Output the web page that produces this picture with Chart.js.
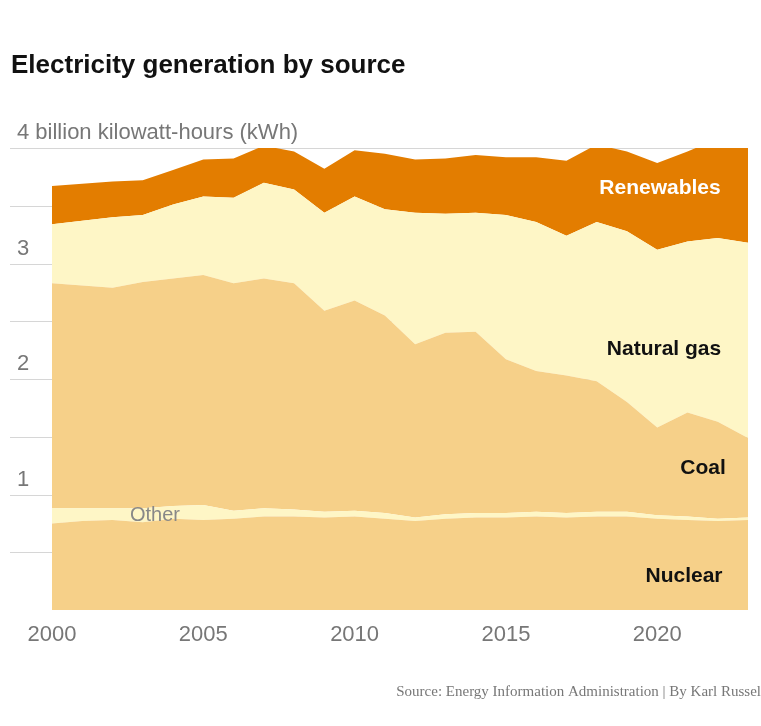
<!DOCTYPE html>
<html>
<head>
<meta charset="utf-8">
<script src="https://cdn.jsdelivr.net/npm/chart.js@4"></script>
<style>
  html, body { margin: 0; padding: 0; background: #fff; }
  #wrap { position: relative; width: 761px; height: 726px; }
</style>
</head>
<body>
<div id="wrap"><canvas id="c" width="761" height="726"></canvas></div>
<script>
var years = [2000,2001,2002,2003,2004,2005,2006,2007,2008,2009,2010,2011,2012,2013,2014,2015,2016,2017,2018,2019,2020,2021,2022,2023];
// billion kWh x 1000 (values in trillion-ish units of the axis)
var nuclear    = [0.75,0.77,0.78,0.76,0.79,0.78,0.79,0.81,0.81,0.80,0.81,0.79,0.77,0.79,0.80,0.80,0.81,0.80,0.81,0.81,0.79,0.78,0.77,0.78];
var other      = [0.13,0.11,0.10,0.12,0.11,0.13,0.07,0.07,0.06,0.05,0.05,0.05,0.03,0.04,0.04,0.04,0.04,0.04,0.04,0.04,0.03,0.03,0.02,0.02];
var coal       = [1.95,1.93,1.91,1.96,1.97,1.99,1.97,1.99,1.96,1.74,1.82,1.71,1.50,1.57,1.57,1.33,1.22,1.19,1.13,0.95,0.76,0.90,0.84,0.69];
var gas        = [0.51,0.56,0.61,0.58,0.64,0.68,0.74,0.83,0.81,0.85,0.90,0.92,1.14,1.03,1.03,1.25,1.29,1.21,1.38,1.48,1.54,1.48,1.59,1.69];
var renewables = [0.33,0.32,0.31,0.30,0.30,0.32,0.34,0.32,0.33,0.38,0.40,0.48,0.46,0.48,0.50,0.50,0.56,0.65,0.67,0.69,0.75,0.78,0.86,0.86];
var yTicks = [0,0.5,1,1.5,2,2.5,3,3.5,4];
var yLabels = {1: "1", 2: "2", 3: "3", 4: "4 billion kilowatt-hours (kWh)"};
var xTicks = [2000,2005,2010,2015,2020];

var FONT = "'Liberation Sans', 'Noto Sans', sans-serif";

function series(label, vals, color, fill) {
  return {
    label: label,
    data: years.map(function (y, i) { return {x: y, y: vals[i]}; }),
    backgroundColor: color,
    borderWidth: 0,
    pointRadius: 0,
    fill: fill,
    tension: 0
  };
}

var decor = {
  id: 'decor',
  beforeDatasetsDraw: function (chart) {
    var ctx = chart.ctx, xs = chart.scales.x, ys = chart.scales.y;
    ctx.save();
    ctx.strokeStyle = '#d6d6d6';
    ctx.lineWidth = 1;
    yTicks.forEach(function (t) {
      if (t === 0) return;
      var py = Math.round(ys.getPixelForValue(t)) + 0.5;
      ctx.beginPath(); ctx.moveTo(10, py); ctx.lineTo(xs.right, py); ctx.stroke();
    });
    ctx.restore();
  },
  afterDatasetsDraw: function (chart) {
    var ctx = chart.ctx, xs = chart.scales.x, ys = chart.scales.y;
    ctx.save();
    ctx.fillStyle = '#777';
    ctx.font = '22px ' + FONT;
    ctx.textBaseline = 'bottom';
    ctx.textAlign = 'left';
    Object.keys(yLabels).forEach(function (k) {
      ctx.fillText(yLabels[k], 17, ys.getPixelForValue(+k) - 4);
    });
    ctx.textAlign = 'center';
    ctx.textBaseline = 'top';
    xTicks.forEach(function (t) {
      ctx.fillText(String(t), xs.getPixelForValue(t), ys.bottom + 14);
    });

    ctx.font = 'bold 21px ' + FONT;
    ctx.textBaseline = 'middle';
    ctx.fillStyle = '#fff';
    ctx.fillText('Renewables', 660, 188);
    ctx.fillStyle = '#111';
    ctx.fillText('Natural gas', 664, 349);
    ctx.fillText('Coal', 703, 468);
    ctx.fillText('Nuclear', 684, 576);
    ctx.fillStyle = '#888';
    ctx.font = '20px ' + FONT;
    ctx.fillText('Other', 155, 515);

    ctx.fillStyle = '#111';
    ctx.font = 'bold 26px ' + FONT;
    ctx.textAlign = 'left';
    ctx.fillText('Electricity generation by source', 11, 66);

    ctx.fillStyle = '#777';
    ctx.font = '15px "Liberation Serif", serif';
    ctx.textAlign = 'right';
    ctx.fillText('Source: Energy Information Administration | By Karl Russel', 761, 692);
    ctx.restore();
  }
};

new Chart(document.getElementById('c'), {
  type: 'line',
  data: {
    datasets: [
      series('Nuclear', nuclear, '#f6d089', 'origin'),
      series('Other', other, '#fef6c6', '-1'),
      series('Coal', coal, '#f6d089', '-1'),
      series('Natural gas', gas, '#fef6c6', '-1'),
      series('Renewables', renewables, '#e37d00', '-1')
    ]
  },
  options: {
    responsive: false,
    animation: false,
    layout: { padding: { left: 52, right: 13, top: 148, bottom: 116 } },
    plugins: { legend: { display: false }, tooltip: { enabled: false } },
    scales: {
      x: { type: 'linear', min: 2000, max: 2023, display: false },
      y: { stacked: true, min: 0, max: 4, display: false }
    }
  },
  plugins: [decor]
});
</script>
</body>
</html>
